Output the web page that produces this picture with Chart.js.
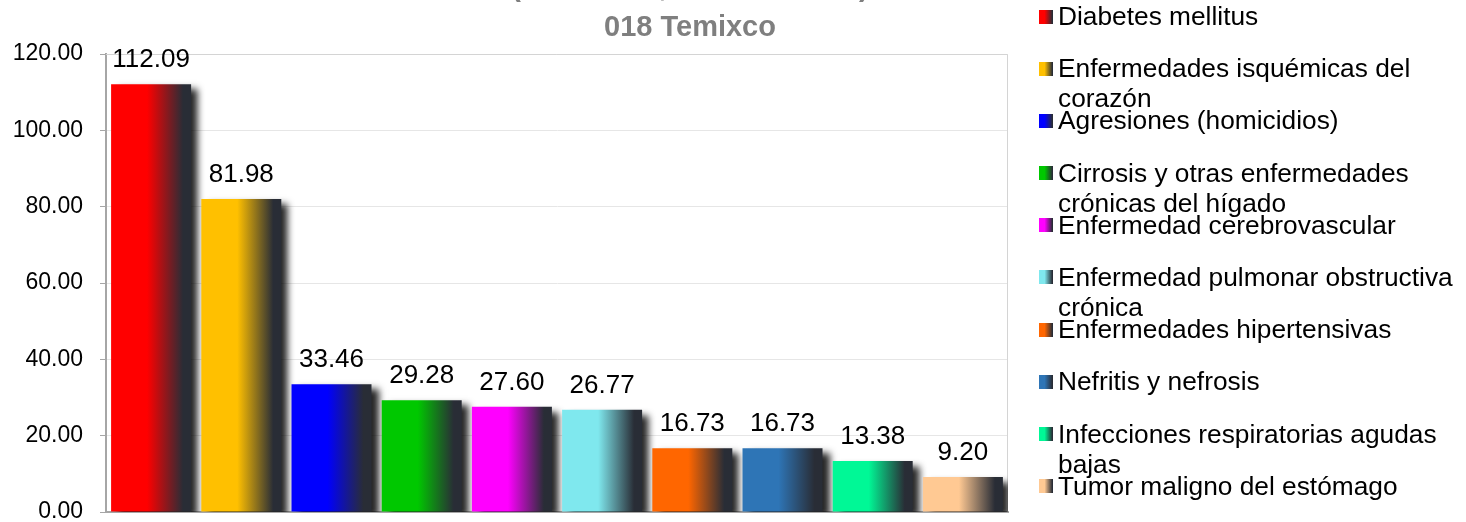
<!DOCTYPE html>
<html>
<head>
<meta charset="utf-8">
<script src="https://cdn.jsdelivr.net/npm/chart.js@4/dist/chart.umd.min.js"></script>
<style>
  html, body { margin: 0; padding: 0; background: #fff; overflow: hidden; }
  #wrap { position: relative; width: 1466px; height: 522px; font-family: "Liberation Sans", Arial, sans-serif; }
  #chart { position: absolute; left: 0; top: 0; }
  #title {
    position: absolute; left: 390px; width: 600px; top: -34px;
    text-align: center; font-weight: bold; font-size: 29px; line-height: 40px; color: #7f7f7f;
    white-space: nowrap;
  }
  #legend { position: absolute; left: 1039px; top: 1px; width: 427px; }
  .item { position: relative; height: 52.2px; }
  .box { position: absolute; left: 0; top: 8.5px; width: 14px; height: 14px; }
  .txt { position: absolute; left: 19px; top: 0; width: 408px; font-size: 26.3px; line-height: 30px; color: #000; }
</style>
</head>
<body>
<div id="wrap">
  <canvas id="chart" width="1466" height="522"></canvas>
  <div id="title"></div>
  <div id="legend"></div>
</div>
<script>
// Data
const titleLines = ['(Tasa x mil, Morelos 2017)', '018 Temixco'];
const causes = [
    'Diabetes mellitus',
    'Enfermedades isquémicas del corazón',
    'Agresiones (homicidios)',
    'Cirrosis y otras enfermedades crónicas del hígado',
    'Enfermedad cerebrovascular',
    'Enfermedad pulmonar obstructiva crónica',
    'Enfermedades hipertensivas',
    'Nefritis y nefrosis',
    'Infecciones respiratorias agudas bajas',
    'Tumor maligno del estómago'
];
const rates = [112.09, 81.98, 33.46, 29.28, 27.60, 26.77, 16.73, 16.73, 13.38, 9.20];
const yTicks = [0, 20, 40, 60, 80, 100, 120];

const barColors = ['#ff0000', '#ffc000', '#0000ff', '#00c800', '#ff00ff',
                   '#7fe8ee', '#ff6600', '#2e75b6', '#00f896', '#ffc993'];
const DARK = '#292d36';

// title + legend as html
document.getElementById('title').innerHTML = titleLines.join('<br>');
const legendEl = document.getElementById('legend');
causes.forEach((name, i) => {
    const item = document.createElement('div');
    item.className = 'item';
    const box = document.createElement('div');
    box.className = 'box';
    box.style.background = `linear-gradient(to right, ${barColors[i]} 0%, ${barColors[i]} 40%, ${DARK} 95%)`;
    const txt = document.createElement('div');
    txt.className = 'txt';
    txt.textContent = name;
    item.appendChild(box);
    item.appendChild(txt);
    legendEl.appendChild(item);
});

function barGradient(ctx, el, color) {
    const left = el.x - el.width / 2;
    const g = ctx.createLinearGradient(left, 0, left + el.width, 0);
    g.addColorStop(0, color);
    g.addColorStop(0.45, color);
    g.addColorStop(0.9, DARK);
    g.addColorStop(1, DARK);
    return g;
}

const barLook = {
    id: 'barLook',
    beforeDatasetsDraw(chart) {
        const ctx = chart.ctx;
        const a = chart.chartArea;
        // plot frame
        ctx.save();
        ctx.strokeStyle = '#d4d4d4';
        ctx.lineWidth = 1;
        ctx.beginPath();
        ctx.moveTo(a.left, a.top + 0.5);
        ctx.lineTo(a.right - 0.5, a.top + 0.5);
        ctx.lineTo(a.right - 0.5, a.bottom);
        ctx.stroke();
        ctx.restore();

        const meta = chart.getDatasetMeta(0);
        meta.data.forEach((el, i) => {
            el.options.backgroundColor = barGradient(ctx, el, barColors[i]);
        });
        ctx.save();
        ctx.shadowColor = 'rgba(0,0,0,0.85)';
        ctx.shadowBlur = 7;
        ctx.shadowOffsetX = 7;
        ctx.shadowOffsetY = 5;
    },
    afterDatasetsDraw(chart) {
        const ctx = chart.ctx;
        ctx.restore();
        const meta = chart.getDatasetMeta(0);
        ctx.save();
        ctx.font = '26px "Liberation Sans", Arial, sans-serif';
        ctx.fillStyle = '#000';
        ctx.textAlign = 'center';
        ctx.textBaseline = 'alphabetic';
        meta.data.forEach((el, i) => {
            ctx.fillText(rates[i].toFixed(2), el.x, el.y - 17);
        });
        ctx.restore();
    }
};

new Chart(document.getElementById('chart'), {
    type: 'bar',
    data: {
        labels: causes,
        datasets: [{
            data: rates,
            backgroundColor: barColors,
            borderWidth: 0,
            barPercentage: 0.887,
            categoryPercentage: 1
        }]
    },
    options: {
        responsive: false,
        animation: false,
        devicePixelRatio: 1,
        layout: { padding: { left: 0, top: 54, right: 458, bottom: 2 } },
        plugins: {
            legend: { display: false },
            title: { display: false },
            tooltip: { enabled: false }
        },
        scales: {
            x: {
                ticks: { display: false },
                grid: { display: false },
                border: { color: '#a6a6a6', width: 2 }
            },
            y: {
                min: yTicks[0],
                max: yTicks[yTicks.length - 1],
                afterFit(scale) {
                    scale.width = 106;
                    scale.paddingTop = 0;
                    scale.paddingBottom = 0;
                },
                afterBuildTicks(scale) { scale.ticks = yTicks.map(v => ({ value: v })); },
                ticks: {
                    padding: 17,
                    color: '#000',
                    font: { family: '"Liberation Sans", Arial, sans-serif', size: 23 },
                    callback: v => Number(v).toFixed(2)
                },
                grid: { color: '#e6e6e6', tickColor: '#a6a6a6', tickLength: 6 },
                border: { color: '#a6a6a6', width: 2 }
            }
        }
    },
    plugins: [barLook]
});
</script>
</body>
</html>
